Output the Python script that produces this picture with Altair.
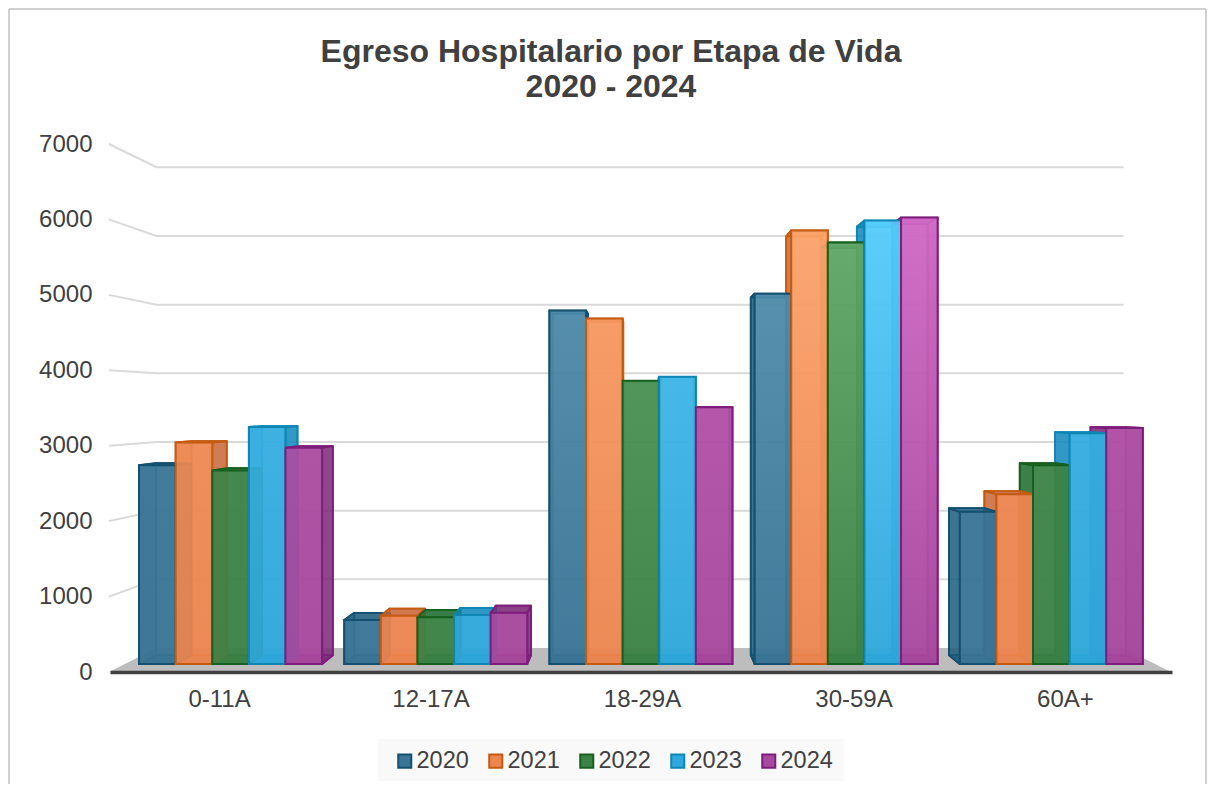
import altair as alt
import pandas as pd

categories = ["0-11A", "12-17A", "18-29A", "30-59A", "60A+"]
years = ["2020", "2021", "2022", "2023", "2024"]
v2020 = [2716, 600, 4830, 5060, 2080]
v2021 = [3027, 660, 4720, 5925, 2320]
v2022 = [2645, 640, 3870, 5760, 2716]
v2023 = [3240, 670, 3925, 6060, 3154]
v2024 = [2956, 700, 3508, 6100, 3225]
series = [v2020, v2021, v2022, v2023, v2024]
grid_values = [1000, 2000, 3000, 4000, 5000, 6000, 7000]
title_lines = ["Egreso Hospitalario por Etapa de Vida", "2020 - 2024"]

dark = ["#3a7596", "#ee8650", "#3b8245", "#2fa8dc", "#a8489e"]
light = ["#5b98b6", "#ffa86e", "#67ae6e", "#58d0ff", "#d46cc8"]
edge = ["#14506f", "#c55a11", "#17601f", "#0e86b4", "#7e1e7c"]
sidec = ["#1f5f80", "#c9683a", "#1f6b30", "#1389bd", "#7c2a78"]

X_DOMAIN = [-0.5154, 4.506]
D_FRONT, D_BACK = 1 / 3, 0.7
BAR = 0.1784


def project(t, v, d):
    """Perspective of a point: position t, value v, depth d (0 axis plane, 1 back wall)."""
    s = 1 - 0.0895 * d
    return 1.995 + (t - 2) * s, v * s + 318 * d


def polygon(points, **extra):
    """Convex polygon as area rows: one x with its lower and upper y per vertex."""
    xs = sorted({round(p[0], 5) for p in points})
    n = len(points)
    rows = []
    for x in xs:
        ys = []
        for i in range(n):
            (x0, y0), (x1, y1) = points[i], points[(i + 1) % n]
            x0, x1 = round(x0, 5), round(x1, 5)
            lo, hi = min(x0, x1), max(x0, x1)
            if lo <= x <= hi:
                if x0 == x1:
                    ys += [y0, y1]
                else:
                    ys.append(y0 + (y1 - y0) * (x - x0) / (x1 - x0))
        rows.append(dict(x=x, y=min(ys), y2=max(ys), **extra))
    return rows


faces = {"back": [], "bottom": [], "left": [], "right": [], "top": []}
fronts = []
p = project
for c, cat in enumerate(categories):
    for k, yr in enumerate(years):
        val = series[k][c]
        a = c + (k - 2.5) * BAR
        b = a + BAR
        base = dict(year=yr)
        faces["back"] += polygon([p(a, 0, D_BACK), p(b, 0, D_BACK), p(b, val, D_BACK), p(a, val, D_BACK)], id=f"{c}{k}b", **base)
        faces["bottom"] += polygon([p(a, 0, D_FRONT), p(b, 0, D_FRONT), p(b, 0, D_BACK), p(a, 0, D_BACK)], id=f"{c}{k}u", **base)
        faces["left"] += polygon([p(a, 0, D_FRONT), p(a, 0, D_BACK), p(a, val, D_BACK), p(a, val, D_FRONT)], id=f"{c}{k}l", **base)
        faces["right"] += polygon([p(b, 0, D_FRONT), p(b, 0, D_BACK), p(b, val, D_BACK), p(b, val, D_FRONT)], id=f"{c}{k}r", **base)
        faces["top"] += polygon([p(a, val, D_FRONT), p(b, val, D_FRONT), p(b, val, D_BACK), p(a, val, D_BACK)], id=f"{c}{k}t", **base)
        fronts.append((k, val, polygon([p(a, 0, D_FRONT), p(b, 0, D_FRONT), p(b, val, D_FRONT), p(a, val, D_FRONT)], id=f"{c}{k}f", **base)))

FONT = "Liberation Sans"
TXT = "#404040"
x_enc = alt.X(
    "x:Q",
    scale=alt.Scale(domain=X_DOMAIN, nice=False, zero=False),
    axis=alt.Axis(
        title=None, values=[0, 1, 2, 3, 4], grid=False, ticks=False,
        labelExpr="['0-11A','12-17A','18-29A','30-59A','60A+'][datum.value]",
        labelFontSize=24, labelColor=TXT, labelFont=FONT, labelPadding=15,
        domainColor="#404040", domainWidth=3.5, zindex=1, labelFlush=False,
    ),
)
y_enc = alt.Y(
    "y:Q",
    scale=alt.Scale(domain=[0, 7000], nice=False, zero=False),
    axis=alt.Axis(
        title=None, values=[0, 1000, 2000, 3000, 4000, 5000, 6000, 7000], grid=False,
        ticks=False, domain=False, format="d", labelFontSize=24, labelColor=TXT,
        labelFont=FONT, labelPadding=18, labelFlush=False,
    ),
)

grid_rows = []
for g in grid_values:
    for i, (t, d) in enumerate([(X_DOMAIN[0], 0), (X_DOMAIN[0], 1), (X_DOMAIN[1], 1)]):
        x, y = project(t, g, d)
        grid_rows.append(dict(x=x, y=y, g=str(g), i=i))
grid_layer = alt.Chart(pd.DataFrame(grid_rows)).mark_line(color="#d9d9d9", strokeWidth=2, clip=False).encode(
    x=x_enc, y=y_enc, detail="g:N", order="i:Q"
)

floor_rows = polygon(
    [project(X_DOMAIN[0], 0, 0), project(X_DOMAIN[1], 0, 0), project(X_DOMAIN[1], 0, 1), project(X_DOMAIN[0], 0, 1)],
    id="floor",
)
floor_layer = alt.Chart(pd.DataFrame(floor_rows)).mark_area(color="#bdbdbd").encode(x=x_enc, y=y_enc, y2="y2:Q")

stroke_scale = alt.Scale(domain=years, range=edge)


def face_layer(name, opacity):
    return alt.Chart(pd.DataFrame(faces[name])).mark_area(strokeWidth=1.8, fillOpacity=opacity, strokeJoin="round").encode(
        x=x_enc, y=y_enc, y2="y2:Q", detail="id:N",
        fill=alt.Fill("year:N", scale=alt.Scale(domain=years, range=sidec), legend=None),
        stroke=alt.Stroke("year:N", scale=stroke_scale, legend=None),
    )


def lerp(c0, c1, f):
    a = [int(c0[i:i + 2], 16) for i in (1, 3, 5)]
    b = [int(c1[i:i + 2], 16) for i in (1, 3, 5)]
    return "#" + "".join(f"{round(u + (w - u) * f):02x}" for u, w in zip(a, b))


front_layers = []
for k, val, rows in fronts:
    f = max(0.0, (val - 2500) / 3600)
    grad = alt.Gradient(
        gradient="linear", x1=0, x2=0, y1=1, y2=0,
        stops=[alt.GradientStop(color=dark[k], offset=0), alt.GradientStop(color=lerp(dark[k], light[k], f), offset=1)],
    )
    front_layers.append(
        alt.Chart(pd.DataFrame(rows)).mark_area(fill=grad, stroke=edge[k], strokeWidth=2, fillOpacity=0.9).encode(
            x=x_enc, y=y_enc, y2="y2:Q"
        )
    )

legend_df = pd.DataFrame({"year": years, "x": [0.0] * 5, "y": [0.0] * 5})
legend_spec = alt.Legend(
    title=None, orient="none", legendX=283, legendY=605, direction="horizontal",
    columns=5, symbolType="square", symbolSize=170, symbolStrokeWidth=2, symbolOpacity=1,
    labelFontSize=23.5, labelColor=TXT, labelFont=FONT, labelOffset=0, columnPadding=15,
    padding=0,
)
legend_layer = alt.Chart(legend_df).mark_square(size=0, filled=True, opacity=0).encode(
    x=x_enc, y=y_enc,
    fill=alt.Fill("year:N", scale=alt.Scale(domain=years, range=dark), legend=legend_spec),
    stroke=alt.Stroke("year:N", scale=stroke_scale, legend=legend_spec),
)

one = pd.DataFrame({"a": [0]})
box = alt.Chart(one).mark_rect(color="#f9f9f9").encode(
    x=alt.value(268), x2=alt.value(734), y=alt.value(595), y2=alt.value(637)
)
borders = [
    alt.Chart(one).mark_rule(color="#d0d0d0", strokeWidth=2).encode(
        x=alt.value(x0), x2=alt.value(x1), y=alt.value(y0), y2=alt.value(y1)
    )
    for x0, x1, y0, y1 in [(-101, 1096, -135, -135), (-101, -101, -135, 640), (1096, 1096, -135, 640)]
]
titles = [
    alt.Chart(one).mark_text(
        text=line, font=FONT, fontSize=32, fontWeight="bold", color=TXT, align="center", baseline="middle"
    ).encode(x=alt.value(501), y=alt.value(yy))
    for line, yy in zip(title_lines, [-92, -57])
]

layers = borders + titles + [box, grid_layer, floor_layer]
layers += [face_layer("back", 0.55), face_layer("bottom", 0.85), face_layer("left", 0.7), face_layer("right", 0.7), face_layer("top", 0.75)]
layers += front_layers + [legend_layer]

chart = alt.layer(*layers).resolve_scale(fill="independent", stroke="independent").properties(
    width=1062,
    height=528,
    padding={"left": 102, "top": 136, "right": 35, "bottom": 112},
    autosize=alt.AutoSizeParams(type="none"),
    background="#ffffff",
).configure_view(stroke=None)

chart.save("out.html", embed_options={"renderer": "svg", "actions": False})
